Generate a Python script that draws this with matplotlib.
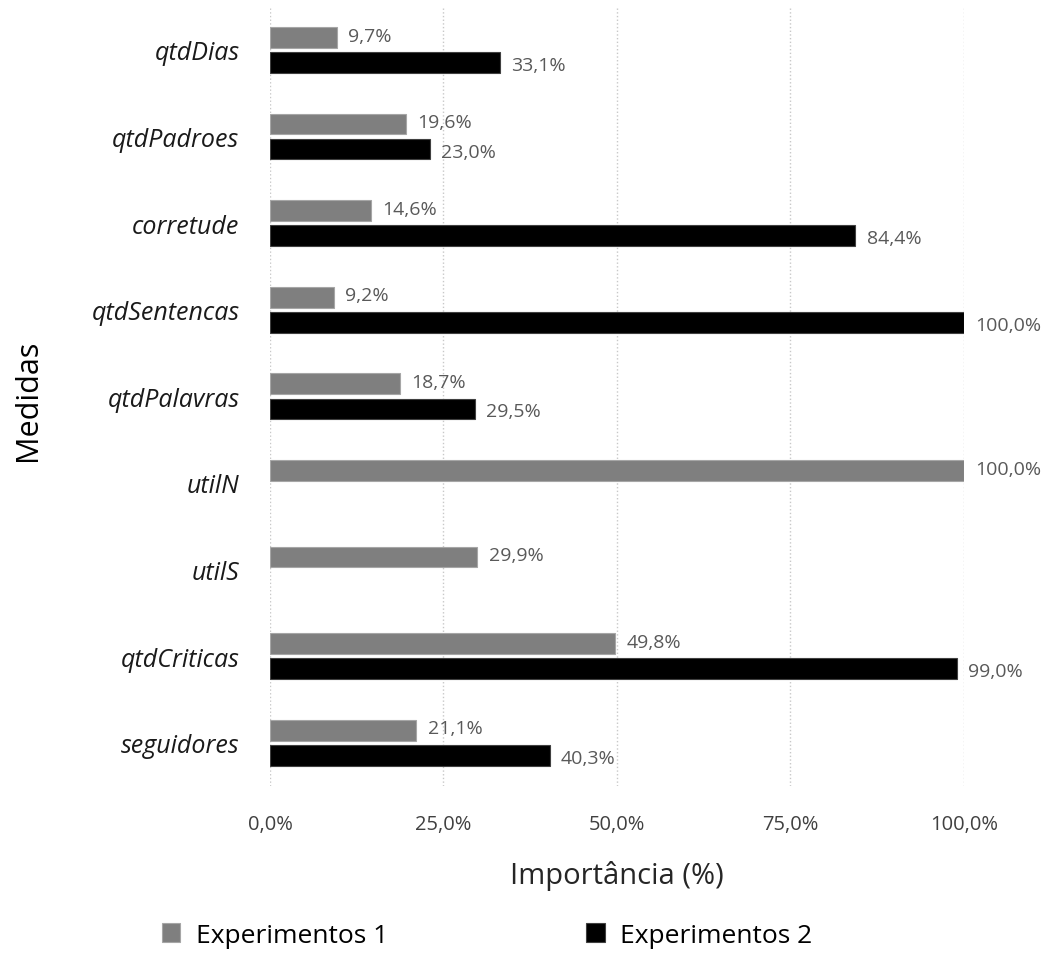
import matplotlib.pyplot as plt
import numpy as np

plt.rcParams['font.family'] = ['Open Sans', 'DejaVu Sans']

medidas = ["qtdDias", "qtdPadroes", "corretude", "qtdSentencas", "qtdPalavras",
           "utilN", "utilS", "qtdCriticas", "seguidores"]
exp1 = [9.7, 19.6, 14.6, 9.2, 18.7, 100.0, 29.9, 49.8, 21.1]
exp2 = [33.1, 23.0, 84.4, 100.0, 29.5, np.nan, np.nan, 99.0, 40.3]
xticks = [0, 25, 50, 75, 100]


def fmt(v):
    return ("%.1f%%" % v).replace(".", ",")


fig = plt.figure(figsize=(10.59, 9.54), dpi=100)
ax = fig.add_axes([0.255, 0.175, 0.655, 0.817])

pos = np.arange(len(medidas))
h = 0.24
off = 0.145

ax.barh(pos - off, exp1, height=h, color="#7f7f7f", edgecolor="#a6a6a6",
        linewidth=0.8, label="Experimentos 1", zorder=3)
e2 = np.array(exp2)
ok = ~np.isnan(e2)
ax.barh(pos[ok] + off, e2[ok], height=h, color="black", edgecolor="#404040",
        linewidth=0.8, label="Experimentos 2", zorder=3)

for p, v in zip(pos, exp1):
    ax.text(v + 1.6, p - off - 0.02, fmt(v), va="center", ha="left",
            fontsize=14, color="#595959")
for p, v in zip(pos, exp2):
    if not np.isnan(v):
        ax.text(v + 1.6, p + off + 0.03, fmt(v), va="center", ha="left",
                fontsize=14, color="#595959")

ax.set_ylim(len(medidas) - 0.5, -0.5)
ax.set_xlim(0, 100)
ax.set_yticks(pos)
ax.set_yticklabels(medidas, fontsize=18, style="italic", color="#1a1a1a")
ax.set_xticks(xticks)
ax.set_xticklabels([fmt(t) for t in xticks], fontsize=14.5, color="#404040")
ax.tick_params(length=0)
ax.tick_params(axis="y", pad=22)
ax.tick_params(axis="x", pad=20)

ax.grid(axis="x", color="#c8c8c8", linestyle=":", linewidth=1.0, zorder=0)
ax.set_axisbelow(True)
for s in ax.spines.values():
    s.set_visible(False)

ax.set_xlabel("Importância (%)", fontsize=21, color="#262626", labelpad=19)
fig.text(0.026, 0.58, "Medidas", rotation=90, fontsize=22, color="#000000",
         va="center", ha="center")

fig.legend(loc="lower center", bbox_to_anchor=(0.46, 0.0), ncol=2,
           fontsize=19, frameon=False, handlelength=0.7, handleheight=0.7,
           columnspacing=7.5, handletextpad=0.6, borderpad=0.2,
           borderaxespad=0.0)

fig.savefig("out.png", dpi=100)
